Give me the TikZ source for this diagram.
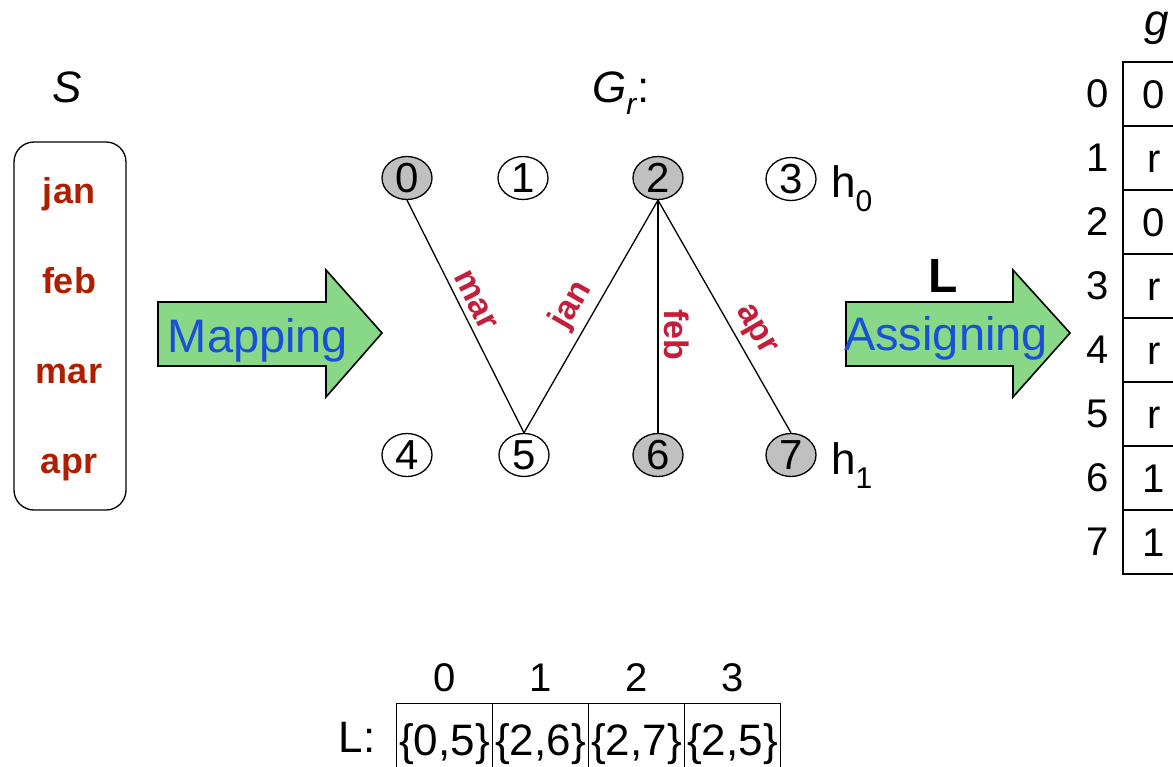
\documentclass[tikz,border=0pt]{standalone}
\usepackage{fontspec}
\setmainfont{Liberation Sans}
\usetikzlibrary{shapes.geometric}
\newcommand\myfs[1]{\fontsize{#1}{#1}\selectfont}
\definecolor{monthred}{HTML}{B01E00}
\definecolor{edgered}{HTML}{C41E3A}
\definecolor{mapblue}{HTML}{1A50D8}
\definecolor{arrowgreen}{HTML}{88D888}
\definecolor{vgray}{HTML}{C0C0C0}
\begin{document}
\begin{tikzpicture}[x=1pt,y=-1pt,
 vtx/.style={ellipse,draw,line width=1.3,minimum width=50,minimum height=43,inner sep=0,font=\myfs{42}},
 gvtx/.style={vtx,fill=vgray},
 edge/.style={line width=1.3},
 elab/.style={font=\myfs{34}\bfseries,text=edgered,inner sep=6},
 month/.style={font=\myfs{36}\bfseries,text=monthred,anchor=base,inner sep=0},
 arrowshape/.style={fill=arrowgreen,draw=black,line width=1.6},
 arrowtext/.style={font=\myfs{47},text=mapblue,anchor=base,inner sep=0},
 gcell/.style={draw,line width=1.2,minimum width=62,minimum height=64,inner sep=0,font=\myfs{40},text height=29,text depth=0},
 lcell/.style={draw,line width=1.2,minimum width=96,minimum height=80,inner sep=0,anchor=north,font=\myfs{44},text height=32,text depth=9},
]
\useasboundingbox (0,0) rectangle (1173,766);

% S set
\node[font=\myfs{44}\itshape,anchor=base,inner sep=0] (Slab) at (67,102) {S};
\node[draw,line width=1.3,rounded corners=20,minimum width=112,minimum height=368] (Sbox) at (70,326) {};
\node[month] (mjan) at (69,203) {jan};
\node[month] (mfeb) at (69,293) {feb};
\node[month] (mmar) at (69,383) {mar};
\node[month] (mapr) at (69,473) {apr};

% Mapping arrow
\draw[arrowshape] (158,302) -- (326,302) -- (326,270) -- (382,333) -- (326,397) -- (326,366) -- (158,366) -- cycle;
\node[arrowtext] (maptext) at (258,352) {Mapping};

% graph
\node[anchor=base west,inner sep=0,font=\myfs{44}] (Gr) at (592,102) {\textit{G}\raisebox{-0.28em}{\myfs{30}\textit{r}}:};
\node[gvtx] (v0) at (407,178) {0};
\node[vtx]  (v1) at (523,178) {1};
\node[gvtx] (v2) at (658,178) {2};
\node[vtx]  (v3) at (791,179) {3};
\node[vtx]  (v4) at (407,455) {4};
\node[vtx]  (v5) at (524,455) {5};
\node[gvtx] (v6) at (658,455) {6};
\node[gvtx] (v7) at (791,455) {7};
\node[anchor=base west,inner sep=0,font=\myfs{44}] (h0) at (831,197) {h\raisebox{-0.33em}{\myfs{30}0}};
\node[anchor=base west,inner sep=0,font=\myfs{44}] (h1) at (831,474) {h\raisebox{-0.33em}{\myfs{30}1}};

\draw[edge] (v0.south) -- node[elab,sloped,above,pos=0.46]{mar} (v5.north);
\draw[edge] (v5.north) -- node[elab,sloped,above,pos=0.5]{jan} (v2.south);
\draw[edge] (v2.south) -- node[elab,rotate=-90,anchor=south,pos=0.58]{feb} (v6.north);
\draw[edge] (v2.south) -- node[elab,sloped,above,pos=0.6]{apr} (v7.north);

% Assigning arrow
\draw[arrowshape] (846,302) -- (1013,302) -- (1013,270) -- (1070,333) -- (1013,397) -- (1013,366) -- (846,366) -- cycle;
\node[arrowtext] (asgtext) at (946,350) {Assigning};
\node[font=\myfs{48}\bfseries,anchor=base,inner sep=0] (Lbold) at (943,292) {L};

% g table
\node[font=\myfs{44}\itshape,anchor=base,inner sep=0] (glab) at (1157,35) {g};
\foreach \i/\v in {0/0,1/r,2/0,3/r,4/r,5/r,6/1,7/1}{
  \node[gcell] (g\i) at (1154,{94+64*\i}) {\v};
  \node[font=\myfs{40},anchor=east,inner sep=0] (gi\i) at (1109,{94+64*\i}) {\i};
}

% L table
\node[font=\myfs{44},anchor=base,inner sep=0] (Llab) at (357,752) {L:};
\node[lcell] (L0) at (444.5,703) {\{0,5\}};
\node[lcell] (L1) at (540.5,703) {\{2,6\}};
\node[lcell] (L2) at (636.5,703) {\{2,7\}};
\node[lcell] (L3) at (732.5,703) {\{2,5\}};
\node[font=\myfs{40},anchor=base,inner sep=0] (li0) at (444.5,691) {0};
\node[font=\myfs{40},anchor=base,inner sep=0] (li1) at (540.5,691) {1};
\node[font=\myfs{40},anchor=base,inner sep=0] (li2) at (636.5,691) {2};
\node[font=\myfs{40},anchor=base,inner sep=0] (li3) at (732.5,691) {3};
\end{tikzpicture}
\end{document}
